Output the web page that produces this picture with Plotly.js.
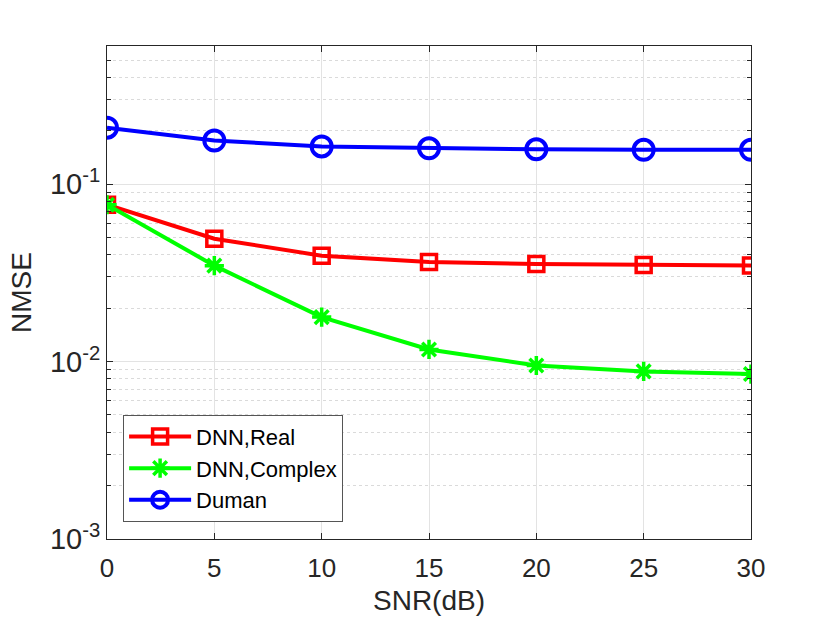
<!DOCTYPE html>
<html>
<head>
<meta charset="utf-8">
<script src="https://cdn.plot.ly/plotly-3.0.1.min.js"></script>
<style>
  html, body { margin: 0; padding: 0; background: #fff; }
  #chart { width: 830px; height: 623px; }
</style>
</head>
<body>
<div id="chart"></div>
<script>
// SNR points (dB)
var snr = [0, 5, 10, 15, 20, 25, 30];

// NMSE
var dnnReal    = [0.0765, 0.0492, 0.0395, 0.0364, 0.0355, 0.0350, 0.0348];
var dnnComplex = [0.0765, 0.0347, 0.0178, 0.0117, 0.0095, 0.0088, 0.0085];
var duman      = [0.208, 0.176, 0.163, 0.159, 0.157, 0.156, 0.156];

var yTickVals = [0.001, 0.01, 0.1];
var yTickText = ['10<sup>-3</sup>', '10<sup>-2</sup>', '10<sup>-1</sup>'];

// minor tick spots for the log axis: 2..9 of each decade
var minorVals = [];
[0.001, 0.01, 0.1].forEach(function(d) {
    for (var k = 2; k <= 9; k++) minorVals.push(k * d);
});

var fontFamily = '"Liberation Sans", Arial, Helvetica, sans-serif';
var inkColor = '#262626';

var real_trace = {
    x: snr, y: dnnReal,
    name: 'DNN,Real',
    type: 'scatter', mode: 'lines+markers',
    line: { color: 'rgb(255,0,0)', width: 4 },
    marker: { symbol: 'square-open', size: 15, color: 'rgb(255,0,0)', line: { width: 3.5 } }
};
var complex_trace = {
    x: snr, y: dnnComplex,
    name: 'DNN,Complex',
    type: 'scatter', mode: 'lines+markers',
    line: { color: 'rgb(0,255,0)', width: 4 },
    marker: { symbol: 'asterisk-open', size: 16, color: 'rgb(0,255,0)', line: { width: 3.5, color: 'rgb(0,255,0)' } }
};
var duman_trace = {
    x: snr, y: duman,
    name: 'Duman',
    type: 'scatter', mode: 'lines+markers',
    line: { color: 'rgb(0,0,255)', width: 4 },
    marker: { symbol: 'circle-open', size: 20, color: 'rgb(0,0,255)', line: { width: 4 } }
};

var layout = {
    width: 830, height: 623,
    paper_bgcolor: '#fff', plot_bgcolor: '#fff',
    margin: { l: 107, r: 79, t: 46, b: 84 },
    font: { family: fontFamily, color: inkColor, size: 26 },
    showlegend: true,
    legend: {
        x: 0.025, xanchor: 'left',
        y: 0.035, yanchor: 'bottom',
        bgcolor: '#fff',
        bordercolor: '#555', borderwidth: 1,
        font: { size: 22, color: '#000' },
        itemwidth: 62,
        tracegroupgap: 0
    },
    xaxis: {
        range: [0, 30],
        tickvals: snr,
        ticks: 'inside', ticklen: 6, tickcolor: inkColor,
        showline: true, linecolor: inkColor, linewidth: 1, mirror: 'ticks',
        showgrid: true, gridcolor: '#e3e3e3', gridwidth: 1,
        zeroline: false,
        tickfont: { size: 26 },
        ticklabelstandoff: 6,
        title: { text: 'SNR(dB)', font: { size: 28 }, standoff: 8 },
        automargin: false
    },
    yaxis: {
        type: 'log',
        range: [-3, Math.log10(0.6)],
        tickvals: yTickVals, ticktext: yTickText,
        ticks: 'inside', ticklen: 6, tickcolor: inkColor,
        showline: true, linecolor: inkColor, linewidth: 1, mirror: 'ticks',
        showgrid: true, gridcolor: '#e3e3e3', gridwidth: 1,
        zeroline: false,
        tickfont: { size: 29 },
        title: { text: 'NMSE', font: { size: 28 }, standoff: 10 },
        automargin: false,
        minor: {
            tickvals: minorVals,
            ticks: 'inside', ticklen: 4, tickcolor: inkColor,
            showgrid: true, gridcolor: '#dadada', griddash: 'dot', gridwidth: 1
        }
    }
};

Plotly.newPlot('chart', [real_trace, complex_trace, duman_trace], layout,
    { staticPlot: true, displayModeBar: false });
</script>
</body>
</html>
